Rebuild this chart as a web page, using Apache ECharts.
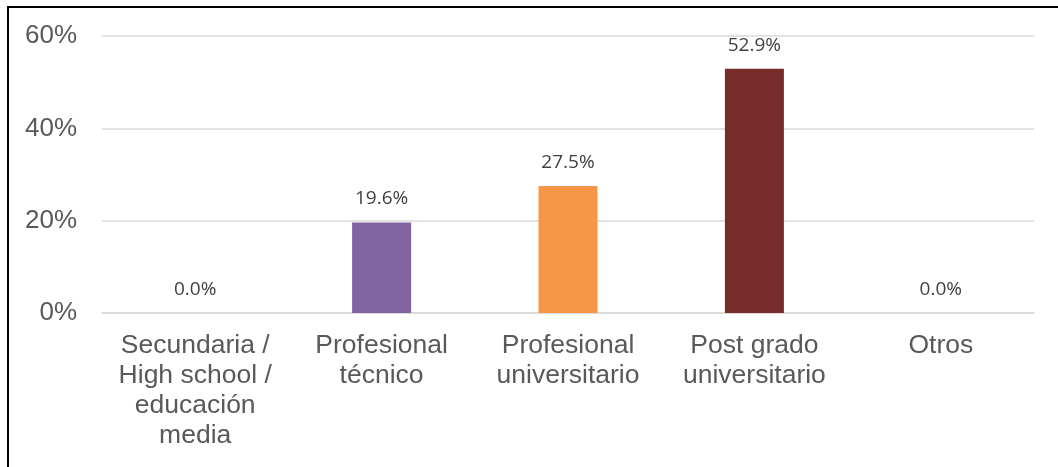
<!DOCTYPE html>
<html>
<head>
<meta charset="utf-8">
<script src="https://cdn.jsdelivr.net/npm/echarts@6/dist/echarts.min.js"></script>
<style>
html,body{margin:0;padding:0;background:#fff;}
#chart{width:1058px;height:467px;}
</style>
</head>
<body>
<div id="chart"></div>
<script>
const categories = ["Secundaria /\nHigh school /\neducación\nmedia", "Profesional\ntécnico", "Profesional\nuniversitario", "Post grado\nuniversitario", "Otros"];
const values = [0, 19.6, 27.5, 52.9, 0];
const barColors = ["#4F81BD", "#8064A2", "#F79646", "#772C2A", "#4BACC6"];
const yTicks = [0, 20, 40, 60];

const chart = echarts.init(document.getElementById('chart'));
chart.setOption({
  animation: false,
  backgroundColor: '#fff',
  graphic: [{
    type: 'polyline',
    shape: { points: [[8, 467], [8, 7], [1058, 7]] },
    style: { stroke: '#000', lineWidth: 2, fill: null }
  }],
  grid: { left: 102, right: 24, top: 36, bottom: 154, containLabel: false },
  xAxis: {
    type: 'category',
    data: categories,
    axisLine: { show: true, lineStyle: { color: '#d9d9d9', width: 1.5 } },
    axisTick: { show: false },
    axisLabel: {
      interval: 0,
      color: '#595959',
      fontFamily: 'Liberation Sans, Arial, sans-serif',
      fontSize: 26.5,
      lineHeight: 30,
      margin: 18
    }
  },
  yAxis: {
    type: 'value',
    min: yTicks[0],
    max: yTicks[yTicks.length - 1],
    interval: 20,
    axisLine: { show: false },
    axisTick: { show: false },
    splitLine: { lineStyle: { color: '#d9d9d9', width: 1.5 } },
    axisLabel: {
      color: '#595959',
      fontFamily: 'Liberation Sans, Arial, sans-serif',
      fontSize: 26,
      margin: 25,
      formatter: v => v + '%'
    }
  },
  series: [{
    type: 'bar',
    barWidth: 59,
    data: values.map((v, i) => ({ value: v, itemStyle: { color: barColors[i] } })),
    label: {
      show: true,
      position: 'top',
      distance: 14,
      color: '#404040',
      fontFamily: 'Open Sans, Liberation Sans, sans-serif',
      fontSize: 19,
      formatter: p => p.value.toFixed(1) + '%'
    }
  }]
});
</script>
</body>
</html>
